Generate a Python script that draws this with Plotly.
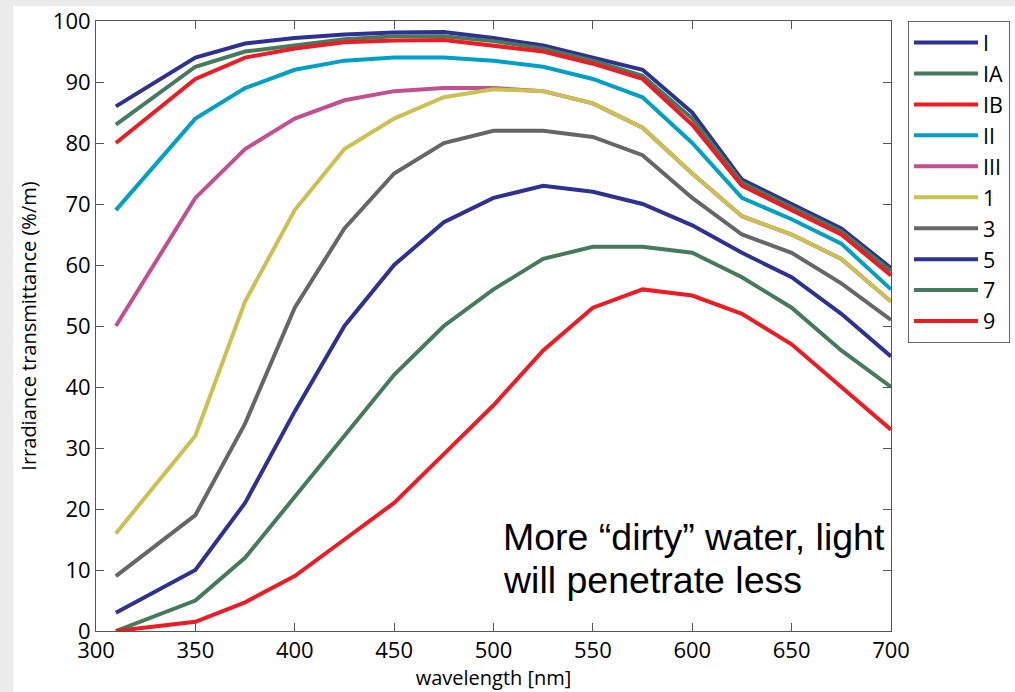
import plotly.graph_objects as go

wavelength = [310, 350, 375, 400, 425, 450, 475, 500, 525, 550, 575, 600, 625, 650, 675, 700]

type_I   = [86, 94, 96.3, 97.2, 97.8, 98.1, 98.2, 97.2, 96, 94, 92, 85, 74, 70, 66, 59.5]
type_IA  = [83, 92.5, 95, 96, 97, 97.5, 97.5, 96.7, 95.5, 93.5, 91, 84, 73.5, 69.5, 65.5, 59]
type_IB  = [80, 90.5, 94, 95.5, 96.5, 96.8, 96.9, 96, 95, 93, 90.5, 83, 73, 69, 65, 58.3]
type_II  = [69, 84, 89, 92, 93.5, 94, 94, 93.5, 92.5, 90.5, 87.5, 80, 71, 67.5, 63.5, 56]
type_III = [50, 71, 79, 84, 87, 88.5, 89, 89, 88.5, 86.5, 82.5, 75, 68, 65, 61, 54]
type_1   = [16, 32, 54, 69, 79, 84, 87.5, 88.8, 88.5, 86.5, 82.5, 75, 68, 65, 61, 54]
type_3   = [9, 19, 34, 53, 66, 75, 80, 82, 82, 81, 78, 71, 65, 62, 57, 51]
type_5   = [3, 10, 21, 36, 50, 60, 67, 71, 73, 72, 70, 66.5, 62, 58, 52, 45]
type_7   = [0, 5, 12, 22, 32, 42, 50, 56, 61, 63, 63, 62, 58, 53, 46, 40]
type_9   = [0, 1.5, 4.7, 9, 15, 21, 29, 37, 46, 53, 56, 55, 52, 47, 40, 33]

names = ["I", "IA", "IB", "II", "III", "1", "3", "5", "7", "9"]
series = [type_I, type_IA, type_IB, type_II, type_III, type_1, type_3, type_5, type_7, type_9]
colors = ["#2e3192", "#467a5c", "#ed1c24", "#00a0c6", "#c0508f",
          "#cbc052", "#666666", "#2e3192", "#467a5c", "#ed1c24"]

x_ticks = [300, 350, 400, 450, 500, 550, 600, 650, 700]
y_ticks = [0, 10, 20, 30, 40, 50, 60, 70, 80, 90, 100]

note_line1 = "More \u201cdirty\u201d water, light"
note_line2 = "will penetrate less"

fig = go.Figure()
for name, ys, c in zip(names, series, colors):
    fig.add_trace(go.Scatter(x=wavelength, y=ys, name=name, mode="lines",
                             line=dict(color=c, width=4)))

tickfont = dict(family="Open Sans", size=22, color="black")
axis_common = dict(showline=True, linecolor="#555555", linewidth=1, mirror="ticks",
                   ticks="inside", ticklen=8, tickcolor="#555555", tickwidth=1,
                   showgrid=False, zeroline=False, tickfont=tickfont)

fig.update_xaxes(range=[300, 700], tickvals=x_ticks,
                 title=dict(text="wavelength [nm]", font=dict(family="Open Sans", size=20, color="black"),
                            standoff=5),
                 **axis_common)
fig.update_yaxes(range=[0, 100], tickvals=y_ticks,
                 title=dict(text="Irradiance transmittance (%/m)",
                            font=dict(family="Open Sans", size=20, color="black"), standoff=10),
                 **axis_common)

fig.add_annotation(x=504.0, y=15.4, xref="x", yref="y", text=note_line1, showarrow=False,
                   xanchor="left", yanchor="middle",
                   font=dict(family="Liberation Sans", size=37.5, color="black"))
fig.add_annotation(x=504.0, y=8.3, xref="x", yref="y", text=note_line2, showarrow=False,
                   xanchor="left", yanchor="middle",
                   font=dict(family="Liberation Sans", size=37.5, color="black"))

# white page on light-gray frame
fig.add_shape(type="rect", xref="paper", yref="paper", x0=-0.1044, x1=1.2, y0=-0.2, y1=1.0246,
              fillcolor="white", line=dict(width=0), layer="below")

fig.update_layout(
    width=1015, height=692,
    margin=dict(l=96, r=124, t=21, b=61, autoexpand=False),
    paper_bgcolor="#ebebeb", plot_bgcolor="white",
    showlegend=True,
    legend=dict(x=1.0214, y=1.0, xanchor="left", yanchor="top",
                bgcolor="white", bordercolor="#666666", borderwidth=1,
                font=dict(family="Open Sans", size=21.5, color="black"),
                itemwidth=64, tracegroupgap=0),
)

fig.write_html("out.html", config={"displayModeBar": False},
               post_script="document.body.style.margin='0';document.body.style.overflow='hidden';")
